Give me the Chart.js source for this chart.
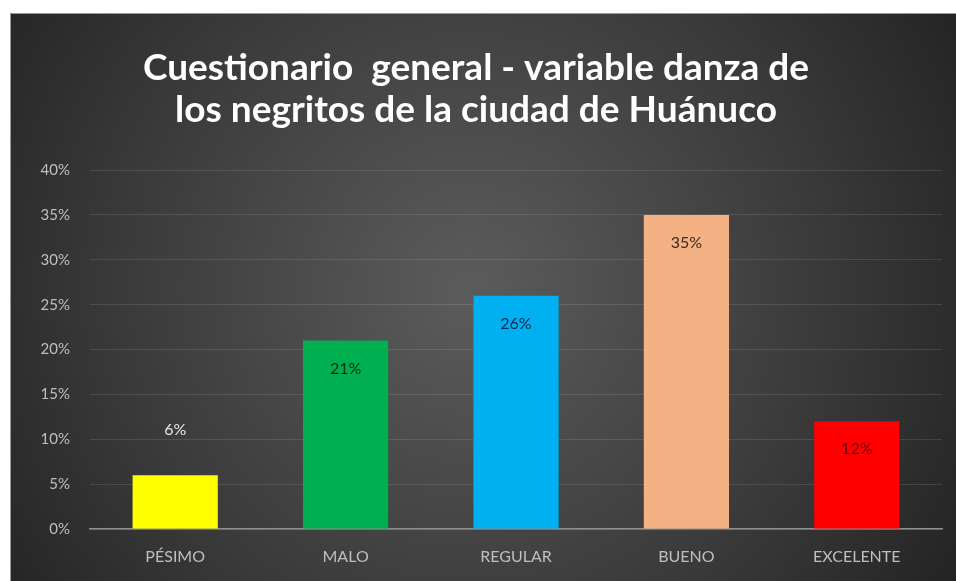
<!DOCTYPE html>
<html>
<head>
<meta charset="utf-8">
<script src="https://cdn.jsdelivr.net/npm/chart.js@4"></script>
<style>
  html, body { margin: 0; padding: 0; background: #fff; overflow: hidden; }
  canvas { display: block; }
</style>
</head>
<body>
<canvas id="grafico" width="956" height="581"></canvas>
<script>
// datos del grafico
const categorias = ['PÉSIMO', 'MALO', 'REGULAR', 'BUENO', 'EXCELENTE']
const porcentajes = [6, 21, 26, 35, 12]
const colores = ['#FFFF00', '#00B050', '#00B0F0', '#F4B183', '#FF0000']
const coloresEtiqueta = ['#e6e6e6', '#0b2a12', '#0d2a4a', '#3a2a1e', '#5a0000']
const ticksY = [0, 5, 10, 15, 20, 25, 30, 35, 40]
const titulo = ['Cuestionario  general - variable danza de', 'los negritos de la ciudad de Huánuco']

// fondo oscuro con degradado radial
const fondo = {
  id: 'fondo',
  beforeDraw(chart) {
    const c = chart.ctx
    c.save()
    c.fillStyle = '#fff'
    c.fillRect(0, 0, chart.width, chart.height)
    const g = c.createRadialGradient(470, 290, 20, 470, 290, 620)
    g.addColorStop(0, '#5a5a5a')
    g.addColorStop(0.55, '#3a3a3a')
    g.addColorStop(1, '#1e1e1e')
    c.fillStyle = g
    c.fillRect(10, 13, chart.width - 10, chart.height - 13)
    c.strokeStyle = '#9a9a9a'
    c.lineWidth = 1
    c.beginPath()
    c.moveTo(10.5, chart.height)
    c.lineTo(10.5, 13.5)
    c.lineTo(chart.width, 13.5)
    c.stroke()
    c.restore()
  }
}

// etiquetas de datos (como en Excel)
const etiquetas = {
  id: 'etiquetas',
  afterDatasetsDraw(chart) {
    const c = chart.ctx
    const meta = chart.getDatasetMeta(0)
    c.save()
    c.font = '16px Lato'
    c.textAlign = 'center'
    c.textBaseline = 'middle'
    meta.data.forEach((bar, i) => {
      const v = porcentajes[i]
      c.fillStyle = coloresEtiqueta[i]
      const y = v < 10 ? bar.y - 45 : bar.y + 28
      c.fillText(v + '%', bar.x, y)
    })
    c.restore()
  }
}

window.addEventListener('load', setup)
function setup() {
  const ctx = document.getElementById('grafico').getContext('2d')
  const graph = new Chart(ctx, {
    type: 'bar',
    data: {
      labels: categorias,
      datasets: [{
        data: porcentajes,
        backgroundColor: colores,
        borderWidth: 0,
        barPercentage: 0.5,
        categoryPercentage: 1
      }]
    },
    options: {
      responsive: false,
      animation: false,
      layout: { padding: { left: 10, right: 14, top: 13, bottom: 15 } },
      plugins: {
        legend: { display: false },
        tooltip: { enabled: false },
        title: {
          display: true,
          text: titulo,
          color: '#ffffff',
          font: { family: 'Lato', size: 37, weight: 'bold', lineHeight: 1.11 },
          padding: { top: 35, bottom: 40 }
        }
      },
      scales: {
        x: {
          afterFit(scale) { scale.height = 37 },
          grid: { display: false, drawTicks: false },
          border: { color: '#8f8f8f', width: 1.5 },
          ticks: {
            color: '#bfbfbf',
            padding: 18,
            maxRotation: 0,
            font: { family: 'Lato', size: 16 }
          }
        },
        y: {
          min: 0,
          max: 40,
          afterFit(scale) { scale.width = 80 },
          afterBuildTicks(scale) { scale.ticks = ticksY.map(v => ({ value: v })) },
          border: { display: false },
          grid: {
            color: 'rgba(255,255,255,0.11)',
            drawTicks: false
          },
          ticks: {
            color: '#bfbfbf',
            padding: 20,
            font: { family: 'Lato', size: 15 },
            callback: v => v + '%'
          }
        }
      }
    },
    plugins: [fondo, etiquetas]
  })
}
</script>
</body>
</html>
